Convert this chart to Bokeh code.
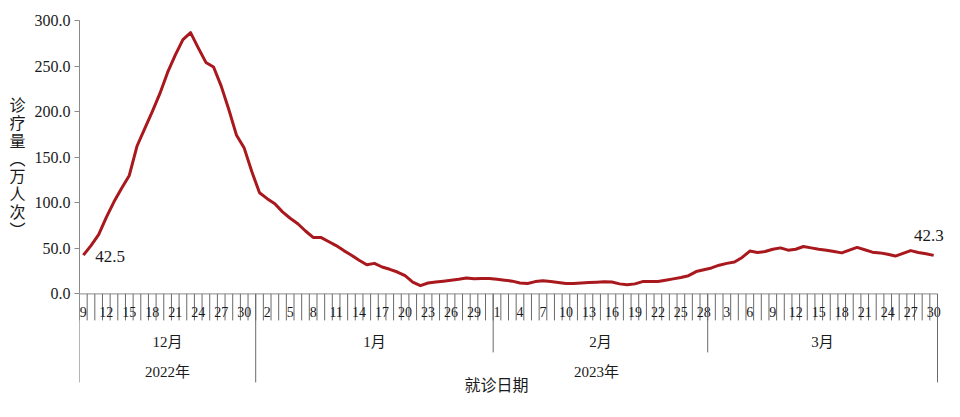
import pandas as pd
from bokeh.plotting import figure
from bokeh.models import Range1d, FixedTicker, NumeralTickFormatter
from bokeh.core.properties import value
from bokeh.embed import file_html
from bokeh.resources import INLINE

# ---------------- data ----------------
start_date = "2022-12-09"
dec_values = [42.5, 53, 65, 84, 101, 116, 130, 162, 181, 200, 220, 243, 262, 279,
              286.7, 270, 254, 249, 228, 202, 174, 160, 134]
jan_values = [111, 104.5, 99, 90, 83, 77, 69, 62, 62, 57.5, 53, 47.5, 42.5, 37, 32,
              33.5, 29.5, 27, 24, 20, 13, 9, 12, 13, 14, 15, 16, 17.5, 16.5, 17, 17]
feb_values = [16, 15, 14, 12, 11.5, 13.5, 14.5, 13.5, 12.5, 11.5, 11.5, 12, 12.5, 12.8,
              13.2, 13, 11, 10, 11, 13.5, 13.6, 13.6, 15, 16.5, 18, 20, 24.5, 26.5]
mar_values = [28.5, 31.5, 33.5, 35, 40, 47, 45.5, 46.5, 49, 50.5, 48, 49, 52, 50.5, 49,
              48, 46.5, 45, 48, 51, 48.5, 45.8, 45, 43.5, 41.5, 44.5, 47.5, 45.5, 44, 42.3]
y_ticks = [0, 50, 100, 150, 200, 250, 300]
y_title = "诊疗量︵万人次︶"
x_title = "就诊日期"

values = dec_values + jan_values + feb_values + mar_values
n = len(values)
dates = pd.date_range(start_date, periods=n, freq="D")
idx = list(range(n))

# ---------------- layout ----------------
W, H = 944, 401
LEFT, TOP = 79, 20
PX_PER_CAT = 858 / 112.0
PX_PER_UNIT = 273.4 / 300.0
frame_w = W - LEFT
frame_h = H - TOP
x0 = -0.5
x1 = x0 + frame_w / PX_PER_CAT
y1 = 300
y0 = y1 - frame_h / PX_PER_UNIT


def below(px):
    return -px / PX_PER_UNIT


SERIF = value("'Liberation Serif', 'Noto Sans CJK SC'")
SANS = value("'Noto Sans CJK SC'")
TXT = "#1a1a1a"
AXC = "#8a8a8a"

p = figure(width=W, height=H, x_range=Range1d(x0, x1), y_range=Range1d(y0, y1),
           x_axis_location=None, y_axis_location="left",
           toolbar_location=None, output_backend="svg",
           min_border_left=LEFT, min_border_right=0, min_border_top=TOP,
           min_border_bottom=0)
p.xgrid.visible = False
p.ygrid.visible = False
p.outline_line_color = None
p.background_fill_color = "white"
p.border_fill_color = "white"

ya = p.yaxis[0]
ya.ticker = FixedTicker(ticks=y_ticks)
ya.formatter = NumeralTickFormatter(format="0.0")
ya.bounds = (0, 300)
ya.axis_line_color = AXC
ya.major_tick_line_color = AXC
ya.major_tick_out = 5
ya.major_tick_in = 0
ya.minor_tick_line_color = None
ya.major_label_standoff = 4
ya.major_label_text_font = "Liberation Serif"
ya.major_label_text_font_size = "16px"
ya.major_label_text_color = TXT
# stacked upright characters; blank trailing lines lift the block to sit beside 0–300
ya.axis_label = "\n".join(list(y_title) + ["\u00a0"] * 5)
ya.axis_label_orientation = "horizontal"
ya.axis_label_standoff = 6
ya.axis_label_text_font = "Noto Sans CJK SC"
ya.axis_label_text_font_size = "16px"
ya.axis_label_text_font_style = "normal"
ya.axis_label_text_color = TXT
ya.axis_label_text_line_height = 0.74

# main line
p.line(x=idx, y=values, line_color="#A8181D", line_width=3, line_join="round")

# x axis line and ticks
p.segment(x0=[-0.5], y0=[0], x1=[n - 0.5], y1=[0], line_color=AXC, line_width=1)
bounds = [i - 0.5 for i in range(n + 1)]
p.segment(x0=bounds, y0=[0] * len(bounds), x1=bounds, y1=[below(26.5)] * len(bounds),
          line_color="#6a6a6a", line_width=1)

# day labels (every 3rd day)
day_x = [i for i in idx if i % 3 == 0]
day_t = [str(dates[i].day) for i in day_x]
p.text(x=day_x, y=[below(18.5)] * len(day_x), text=day_t, text_font=SERIF,
       text_font_size="14px", text_color=TXT, text_align="center",
       text_baseline="middle")

# month / year groups
months = []
for i, d in enumerate(dates):
    key = (d.year, d.month)
    if not months or months[-1][0] != key:
        months.append([key, i, i])
    else:
        months[-1][2] = i
years = []
for key, s, e in months:
    if not years or years[-1][0] != key[0]:
        years.append([key[0], s, e])
    else:
        years[-1][2] = e

year_bounds = sorted(set([s - 0.5 for _, s, _ in years] + [n - 0.5]))
month_bounds = [s - 0.5 for _, s, _ in months if (s - 0.5) not in year_bounds]
p.segment(x0=month_bounds, y0=[0] * len(month_bounds), x1=month_bounds,
          y1=[below(58.5)] * len(month_bounds), line_color="#6a6a6a", line_width=1)
p.segment(x0=year_bounds, y0=[0] * len(year_bounds), x1=year_bounds,
          y1=[below(88.5)] * len(year_bounds), line_color="#6a6a6a", line_width=1)

p.text(x=[(s + e) / 2 for _, s, e in months], y=[below(48.5)] * len(months),
       text=[f"{k[1]}月" for k, _, _ in months], text_font=SERIF,
       text_font_size="15px", text_color=TXT, text_align="center",
       text_baseline="middle")
p.text(x=[(s + e) / 2 for _, s, e in years], y=[below(78.5)] * len(years),
       text=[f"{y}年" for y, _, _ in years], text_font=SERIF,
       text_font_size="15px", text_color=TXT, text_align="center",
       text_baseline="middle")

# x title
p.text(x=[(n - 1) / 2], y=[below(90.5)], text=[x_title], text_font=SANS,
       text_font_size="16px", text_color=TXT, text_align="center",
       text_baseline="middle", x_offset=-12)

# value annotations
peak_i = max(idx, key=lambda i: values[i])
p.text(x=[peak_i], y=[values[peak_i]], text=[f"{values[peak_i]:.1f}"],
       text_font=SERIF, text_font_size="17px", text_color=TXT,
       text_align="center", text_baseline="middle", y_offset=-19)
p.text(x=[0], y=[values[0]], text=[f"{values[0]:.1f}"],
       text_font=SERIF, text_font_size="17px", text_color=TXT,
       text_align="left", text_baseline="middle", x_offset=12, y_offset=1)
p.text(x=[n - 1], y=[values[-1]], text=[f"{values[-1]:.1f}"],
       text_font=SERIF, text_font_size="17px", text_color=TXT,
       text_align="right", text_baseline="middle", x_offset=10, y_offset=-20)

open("out.html", "w").write(file_html(p, INLINE))
